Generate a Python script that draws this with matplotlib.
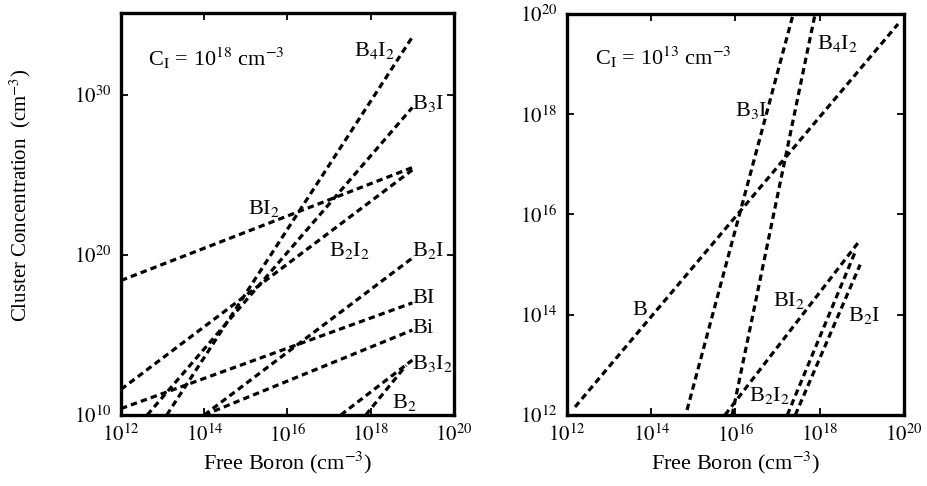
import numpy as np
import matplotlib
matplotlib.use("Agg")
import matplotlib.pyplot as plt

plt.rcParams['font.family'] = ['Liberation Serif', 'DejaVu Serif']
plt.rcParams['mathtext.fontset'] = 'stix'

# ---- data: line end points as log10 values (free boron, cluster conc.) ----
left_names = [r"B$_4$I$_2$", r"B$_3$I", r"BI$_2$", r"B$_2$I$_2$", r"B$_2$I",
              "BI", "Bi", r"B$_3$I$_2$", r"B$_2$"]
left_x0 = [13.1, 12.63, 12.0, 12.0, 14.0, 12.0, 14.0, 17.28, 17.88]
left_x1 = [19.0, 19.0, 19.0, 19.0, 19.0, 19.0, 19.0, 19.0, 18.85]
left_y0 = [10.0, 10.0, 18.4, 11.6, 10.0, 10.4, 10.0, 10.0, 10.0]
left_y1 = [33.6, 29.2, 25.45, 25.3, 19.8, 17.0, 15.3, 13.43, 13.1]

right_names = ["B", r"B$_3$I", r"B$_4$I$_2$", r"BI$_2$", r"B$_2$I$_2$", r"B$_2$I"]
right_x0 = [12.19, 14.85, 15.92, 15.75, 17.23, 17.42]
right_x1 = [19.86, 17.37, 17.89, 18.96, 18.84, 18.96]
right_y0 = [12.16, 12.1, 12.0, 12.0, 12.0, 12.0]
right_y1 = [19.8, 20.0, 20.0, 15.49, 15.25, 15.0]

x_ticks = [12, 14, 16, 18, 20]
left_y_ticks = [10, 20, 30]
right_y_ticks = [12, 14, 16, 18, 20]

# label placement (log10 x, log10 y, horizontal alignment)
left_label_pos = [(18.1, 32.75, 'center'), (19.0, 29.45, 'left'), (15.44, 22.9, 'center'),
                  (17.48, 20.3, 'center'), (19.0, 20.3, 'left'), (19.0, 17.3, 'left'),
                  (19.0, 15.42, 'left'), (19.0, 13.24, 'left'), (18.8, 10.8, 'center')]
right_label_pos = [(13.73, 14.09, 'center'), (15.99, 18.08, 'left'), (17.94, 19.41, 'left'),
                   (17.27, 14.29, 'center'), (16.82, 12.38, 'center'), (19.06, 13.99, 'center')]

fig = plt.figure(figsize=(9.28, 4.86), dpi=100)
axL = fig.add_axes([0.1304, 0.1461, 0.3588, 0.8272])
axR = fig.add_axes([0.611, 0.1461, 0.3631, 0.8251])

dash = (0, (2.0, 1.3))


def style(ax, yt, ylim_top):
    ax.set_xscale('log')
    ax.set_yscale('log')
    ax.set_xlim(1e12, 1e20)
    ax.set_ylim(10.0 ** yt[0], 10.0 ** ylim_top)
    ax.set_xticks([10.0 ** t for t in x_ticks])
    ax.set_xticklabels([r"$10^{%d}$" % t for t in x_ticks])
    ax.set_yticks([10.0 ** t for t in yt])
    ax.set_yticklabels([r"$10^{%d}$" % t for t in yt])
    ax.minorticks_off()
    ax.tick_params(direction='in', length=5, width=1.3, top=True, right=True,
                   labelsize=15, pad=7)
    for s in ax.spines.values():
        s.set_linewidth(2.4)
    ax.set_xlabel(r"Free Boron (cm$^{-3}$)", fontsize=16, labelpad=2)


def draw(ax, names, x0, x1, y0, y1, pos):
    for i in range(len(names)):
        ax.plot([10.0 ** x0[i], 10.0 ** x1[i]], [10.0 ** y0[i], 10.0 ** y1[i]],
                color='black', lw=2.3, linestyle=dash, dash_capstyle='butt')
        px, py, ha = pos[i]
        ax.text(10.0 ** px, 10.0 ** py, names[i], fontsize=16, ha=ha, va='center')


style(axL, left_y_ticks, 35.1)
draw(axL, left_names, left_x0, left_x1, left_y0, left_y1, left_label_pos)
axL.text(10.0 ** 12.65, 10.0 ** 32.3, r"C$_\mathrm{I}$ = 10$^{18}$ cm$^{-3}$",
         fontsize=16, ha='left', va='center')
axL.set_ylabel(r"Cluster Concentration  (cm$^{-3}$)", fontsize=15)
axL.yaxis.set_label_coords(-0.265, 0.545)

style(axR, right_y_ticks, 20)
draw(axR, right_names, right_x0, right_x1, right_y0, right_y1, right_label_pos)
axR.text(10.0 ** 12.67, 10.0 ** 19.13, r"C$_\mathrm{I}$ = 10$^{13}$ cm$^{-3}$",
         fontsize=16, ha='left', va='center')

fig.savefig("out.png", dpi=100)
